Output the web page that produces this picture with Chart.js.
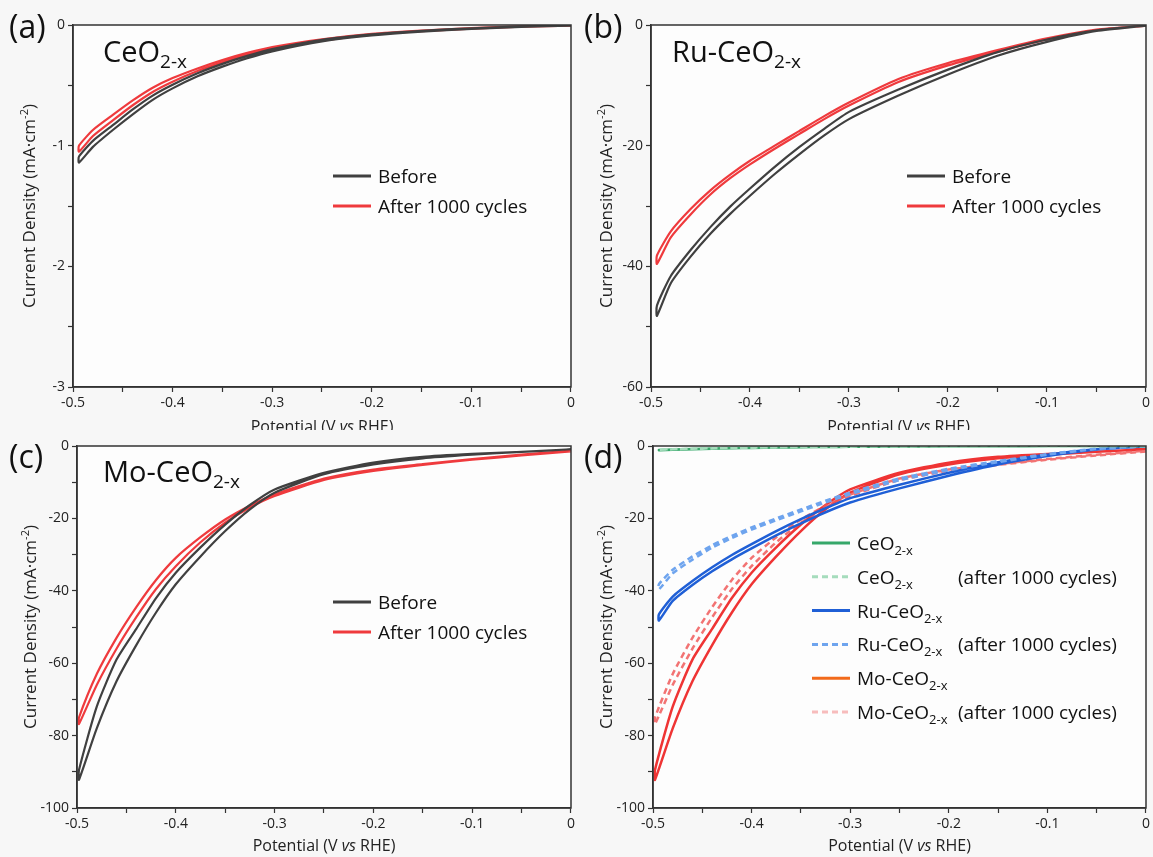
<!DOCTYPE html>
<html>
<head>
<meta charset="utf-8">
<title>HER stability before / after 1000 cycles</title>
<script src="https://cdn.jsdelivr.net/npm/chart.js@4.4.1/dist/chart.umd.min.js"></script>
<style>
  html, body { margin: 0; padding: 0; background: #f7f7f7; }
  #wrap { position: relative; width: 1153px; height: 857px; overflow: hidden; }
  canvas { position: absolute; }
</style>
</head>
<body>
<div id="wrap">
  <canvas id="pa" width="578" height="430" style="left:0;top:0"></canvas>
  <canvas id="pb" width="575" height="430" style="left:578px;top:0"></canvas>
  <canvas id="pc" width="578" height="427" style="left:0;top:430px"></canvas>
  <canvas id="pd" width="575" height="427" style="left:578px;top:430px"></canvas>
</div>
<script>
// sweep potentials (V vs RHE), cathodic scan 0 -> turning point then back
const sweepV = [0, -0.05, -0.1, -0.15, -0.2, -0.25, -0.3, -0.325, -0.35, -0.375, -0.4, -0.42, -0.44, -0.46, -0.48];
// turning potential of each sample
const ceTipV = -0.494;
const ruTipV = -0.494;
const moTipV = -0.498;

// current density (mA/cm2), going down / coming back (last value = turning point)
const ceBeforeDown = [-0.005, -0.015, -0.032, -0.055, -0.087, -0.136, -0.218, -0.275, -0.345, -0.425, -0.525, -0.62, -0.74, -0.87, -1.01, -1.14];
const ceBeforeUp   = [-0.005, -0.012, -0.027, -0.048, -0.078, -0.123, -0.200, -0.256, -0.322, -0.400, -0.495, -0.585, -0.70, -0.83, -0.96, -1.09];
const ceAfterDown  = [-0.005, -0.014, -0.030, -0.052, -0.081, -0.130, -0.198, -0.249, -0.310, -0.382, -0.470, -0.555, -0.665, -0.79, -0.92, -1.05];
const ceAfterUp    = [-0.005, -0.011, -0.025, -0.046, -0.073, -0.118, -0.182, -0.231, -0.290, -0.360, -0.440, -0.520, -0.625, -0.745, -0.87, -1.00];

const ruBeforeDown = [-0.1, -1.0, -2.8, -5.1, -8.2, -11.7, -15.6, -18.3, -21.4, -24.7, -28.3, -31.3, -34.6, -38.4, -42.8, -48.2];
const ruBeforeUp   = [-0.1, -0.9, -2.4, -4.5, -7.4, -10.7, -14.4, -17.2, -20.2, -23.5, -27.1, -30.1, -33.5, -37.3, -41.6, -46.5];
const ruAfterDown  = [-0.1, -0.85, -2.4, -4.45, -6.7, -9.45, -13.35, -15.6, -18.05, -20.5, -23.1, -25.4, -28.1, -31.4, -35.2, -39.6];
const ruAfterUp    = [-0.1, -0.75, -2.2, -4.15, -6.3, -8.95, -12.85, -15.1, -17.55, -20.0, -22.5, -24.8, -27.4, -30.5, -34.2, -38.2];

const moBeforeDown = [-0.9, -1.6, -2.4, -3.4, -5.1, -7.8, -12.9, -17.5, -23.5, -30.5, -38.2, -46.0, -55.0, -65.0, -78.0, -92.2];
const moBeforeUp   = [-0.9, -1.6, -2.2, -3.0, -4.6, -7.4, -12.0, -16.3, -21.7, -28.0, -35.0, -42.0, -50.5, -59.0, -72.0, -89.5];
const moAfterDown  = [-1.5, -2.6, -3.8, -5.2, -6.9, -9.4, -13.8, -17.0, -21.2, -26.6, -33.2, -39.5, -47.3, -56.0, -66.0, -76.8];
const moAfterUp    = [-1.3, -2.4, -3.6, -5.0, -6.5, -9.0, -13.4, -16.5, -20.3, -25.2, -30.9, -37.0, -44.5, -53.0, -63.0, -75.0];

const FONT = '"Open Sans", "DejaVu Sans", sans-serif';
const GRAY = '#404040', RED = '#ef3a3d';

// one closed CV loop: down branch to the turning point, then the way back
function loop(down, up, tipV) {
  const vs = sweepV.concat([tipV]);
  const pts = vs.map((v, i) => ({ x: v, y: down[i] }));
  for (let i = vs.length - 1; i >= 0; i--) pts.push({ x: vs[i], y: up[i] });
  return pts;
}

function line(data, color, dash, width) {
  return { data: data, showLine: true, borderColor: color, borderWidth: width || 2.2,
           borderDash: dash ? [6, 4] : [], pointRadius: 0, tension: 0.2, fill: false };
}

function rich(ctx, x, y, parts) {
  parts.forEach(p => {
    ctx.font = (p.italic ? 'italic ' : '') + p.size + 'px ' + FONT;
    ctx.fillText(p.t, x, y + (p.dy || 0));
    x += ctx.measureText(p.t).width;
  });
  return x;
}
function richWidth(ctx, parts) {
  let w = 0;
  parts.forEach(p => { ctx.font = (p.italic ? 'italic ' : '') + p.size + 'px ' + FONT; w += ctx.measureText(p.t).width; });
  return w;
}
function formula(prefix, size, sub, dy) {
  return [{ t: prefix + 'CeO', size: size }, { t: '2-x', size: sub, dy: dy }];
}

function panelPlugin(p) {
  return {
    id: 'panel',
    beforeDraw(chart) {
      const ctx = chart.ctx, a = chart.chartArea;
      ctx.save();
      ctx.fillStyle = '#f7f7f7';
      ctx.fillRect(0, 0, chart.width, chart.height);
      ctx.fillStyle = '#fdfdfd';
      ctx.fillRect(a.left, a.top, a.right - a.left, a.bottom - a.top);
      ctx.restore();
    },
    afterDraw(chart) {
      const ctx = chart.ctx, a = chart.chartArea;
      ctx.save();
      ctx.strokeStyle = '#333';
      ctx.lineWidth = 1.5;
      ctx.strokeRect(a.left, a.top, a.right - a.left, a.bottom - a.top);

      ctx.fillStyle = '#111';
      ctx.textBaseline = 'alphabetic';
      rich(ctx, p.letterX, 38, [{ t: p.letter, size: 32 }]);
      if (p.name !== null) rich(ctx, p.nameX, p.nameY, formula(p.name, 29, 19, 6));

      // legend
      p.legend.forEach((it, i) => {
        const y = p.legY + i * p.legStep;
        ctx.strokeStyle = it.swatch;
        ctx.lineWidth = 3;
        ctx.setLineDash(it.dash ? [6, 4] : []);
        ctx.beginPath();
        ctx.moveTo(p.legX, y);
        ctx.lineTo(p.legX + 38, y);
        ctx.stroke();
        ctx.setLineDash([]);
        ctx.fillStyle = '#111';
        if (it.formula !== undefined) {
          rich(ctx, p.legX + 45, y + 7, formula(it.formula, 19, 13, 5));
          if (it.after) rich(ctx, p.afterX, y + 7, [{ t: '(after 1000 cycles)', size: 19 }]);
        } else {
          rich(ctx, p.legX + 45, y + 7, [{ t: it.text, size: 19 }]);
        }
      });

      // axis titles
      ctx.fillStyle = '#222';
      const xt = [{ t: 'Potential (V ', size: 16 }, { t: 'vs', size: 16, italic: true }, { t: ' RHE)', size: 16 }];
      rich(ctx, (a.left + a.right) / 2 - richWidth(ctx, xt) / 2, p.xTitleY, xt);
      const yt = [{ t: 'Current Density (mA\u00b7cm', size: 17 }, { t: '-2', size: 11, dy: -7 }, { t: ')', size: 17 }];
      ctx.translate(p.yTitleX, (a.top + a.bottom) / 2);
      ctx.rotate(-Math.PI / 2);
      rich(ctx, -richWidth(ctx, yt) / 2, 0, yt);
      ctx.restore();
    }
  };
}

function makeChart(id, p) {
  new Chart(document.getElementById(id), {
    type: 'scatter',
    data: { datasets: p.datasets },
    options: {
      responsive: false,
      animation: false,
      events: [],
      layout: { padding: { top: p.top, right: p.right, left: 0, bottom: 0 } },
      plugins: { legend: { display: false }, tooltip: { enabled: false } },
      scales: {
        x: {
          type: 'linear', min: -0.5, max: 0,
          afterFit: s => { s.height = p.xH; },
          ticks: {
            stepSize: 0.05, autoSkip: false, maxRotation: 0, padding: 3,
            color: '#222', font: { family: FONT, size: 14 },
            callback: v => {
              const k = Math.round(v * 20);
              if (k % 2 !== 0) return '';
              return k === 0 ? '0' : (k / 20).toFixed(1);
            }
          },
          grid: { drawOnChartArea: false, tickLength: 5, color: '#333', tickWidth: 1.2 },
          border: { color: '#333', width: 1.5 }
        },
        y: {
          type: 'linear', min: p.yMin, max: 0,
          afterFit: s => { s.width = p.yW; },
          ticks: {
            stepSize: p.yStep, autoSkip: false, padding: 3,
            color: '#222', font: { family: FONT, size: 14 },
            callback: v => {
              const r = Math.round(v * 10) / 10;
              return Math.abs(r % p.yLabel) < 1e-6 ? String(r === 0 ? 0 : r) : '';
            }
          },
          grid: { drawOnChartArea: false, tickLength: 5, color: '#333', tickWidth: 1.2 },
          border: { color: '#333', width: 1.5 }
        }
      }
    },
    plugins: [panelPlugin(p)]
  });
}

const twoLegend = [{ text: 'Before', swatch: GRAY }, { text: 'After 1000 cycles', swatch: RED }];

makeChart('pa', {
  datasets: [line(loop(ceBeforeDown, ceBeforeUp, ceTipV), GRAY), line(loop(ceAfterDown, ceAfterUp, ceTipV), RED)],
  top: 25, right: 5, yW: 73, xH: 43, yMin: -3, yStep: 0.5, yLabel: 1,
  letter: '(a)', letterX: 9, name: '', nameX: 103, nameY: 62,
  legend: twoLegend, legX: 333, legY: 176, legStep: 30,
  xTitleY: 432, yTitleX: 35
});

makeChart('pb', {
  datasets: [line(loop(ruBeforeDown, ruBeforeUp, ruTipV), GRAY), line(loop(ruAfterDown, ruAfterUp, ruTipV), RED)],
  top: 25, right: 7, yW: 73, xH: 43, yMin: -60, yStep: 10, yLabel: 20,
  letter: '(b)', letterX: 6, name: 'Ru-', nameX: 94, nameY: 62,
  legend: twoLegend, legX: 329, legY: 176, legStep: 30,
  xTitleY: 432, yTitleX: 34
});

makeChart('pc', {
  datasets: [line(loop(moBeforeDown, moBeforeUp, moTipV), GRAY), line(loop(moAfterDown, moAfterUp, moTipV), RED)],
  top: 16, right: 5, yW: 77, xH: 49, yMin: -100, yStep: 10, yLabel: 20,
  letter: '(c)', letterX: 9, name: 'Mo-', nameX: 103, nameY: 52,
  legend: twoLegend, legX: 333, legY: 172, legStep: 30,
  xTitleY: 421, yTitleX: 36
});

makeChart('pd', {
  datasets: [
    line(loop(ceAfterDown, ceAfterUp, ceTipV), '#a5dcbc', true, 2.5),
    line(loop(ceBeforeDown, ceBeforeUp, ceTipV), '#36a86a', false, 2.5),
    line(loop(ruAfterDown, ruAfterUp, ruTipV), '#6ea4ee', true, 2.5),
    line(loop(ruBeforeDown, ruBeforeUp, ruTipV), '#1f5fd6', false, 2.5),
    line(loop(moAfterDown, moAfterUp, moTipV), 'rgba(240,90,90,0.85)', true, 2.5),
    line(loop(moBeforeDown, moBeforeUp, moTipV), '#ef3434', false, 2.5)
  ],
  top: 16, right: 7, yW: 75, xH: 49, yMin: -100, yStep: 10, yLabel: 20,
  letter: '(d)', letterX: 6, name: null,
  legend: [
    { formula: '', swatch: '#36a86a' },
    { formula: '', swatch: '#a5dcbc', dash: true, after: true },
    { formula: 'Ru-', swatch: '#1f5fd6' },
    { formula: 'Ru-', swatch: '#6ea4ee', dash: true, after: true },
    { formula: 'Mo-', swatch: '#f26a1b' },
    { formula: 'Mo-', swatch: '#f7bcbc', dash: true, after: true }
  ],
  legX: 234, legY: 113, legStep: 33.8, afterX: 380,
  xTitleY: 421, yTitleX: 34
});
</script>
</body>
</html>
